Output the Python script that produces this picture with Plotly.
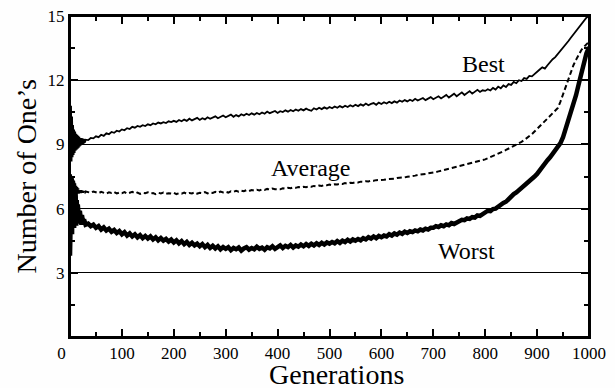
import plotly.graph_objects as go

# ---------------- data ----------------
generations = list(range(0, 31)) + list(range(35, 1001, 5))

best = [
    # 0-30
    11.4, 8.3, 10.8, 8.2, 10.3, 8.4, 9.9, 8.5, 9.7, 8.6, 9.6, 8.7, 9.5, 8.75, 9.45, 8.8,
    9.4, 8.85, 9.35, 8.9, 9.3, 8.95, 9.3, 9.0, 9.28, 9.02, 9.26, 9.05, 9.25, 9.08, 9.22,
    # 35-45
    9.20, 9.30, 9.28,
    9.38, 9.34, 9.45, 9.40, 9.52, 9.48, 9.58, 9.54, 9.64, 9.60,
    9.70, 9.66, 9.76, 9.72, 9.82, 9.78, 9.86, 9.82, 9.90, 9.86,
    9.94, 9.90, 9.98, 9.94, 10.02, 9.98, 10.04, 10.00, 10.08, 10.04,
    10.10, 10.05, 10.14, 10.08, 10.16, 10.10, 10.20, 10.12, 10.18, 10.24,
    10.14, 10.22, 10.17, 10.27, 10.20, 10.25, 10.31, 10.22, 10.29, 10.35,
    10.27, 10.33, 10.39, 10.29, 10.37, 10.31, 10.41, 10.35, 10.43, 10.37,
    10.45, 10.39, 10.47, 10.41, 10.49, 10.43, 10.53, 10.46, 10.51, 10.56,
    10.47, 10.55, 10.51, 10.59, 10.53, 10.61, 10.55, 10.63, 10.57, 10.65,
    10.59, 10.67, 10.61, 10.57, 10.69, 10.63, 10.71, 10.65, 10.73, 10.67,
    10.75, 10.69, 10.77, 10.71, 10.79, 10.73, 10.81, 10.75, 10.83, 10.77,
    10.85, 10.79, 10.87, 10.81, 10.91, 10.83, 10.89, 10.93, 10.85, 10.95,
    10.89, 10.97, 10.91, 10.99, 10.93, 11.01, 10.95, 11.05, 10.99, 11.07,
    11.01, 11.09, 11.03, 11.13, 11.05, 11.11, 11.17, 11.07, 11.15, 11.21,
    11.11, 11.19, 11.25, 11.15, 11.23, 11.31, 11.19, 11.29, 11.37, 11.25,
    11.35, 11.43, 11.31, 11.41, 11.49, 11.37, 11.47, 11.55, 11.45, 11.53,
    11.50, 11.58, 11.52, 11.64, 11.56, 11.70, 11.62, 11.76, 11.68, 11.82,
    11.78, 11.92, 11.86, 12.00, 11.96, 12.10, 12.06, 12.20, 12.18, 12.30,
    12.40, 12.50, 12.60, 12.54, 12.70, 12.86, 12.98, 13.08, 13.22, 13.36,
    13.50, 13.66, 13.82, 13.98, 14.14, 14.30, 14.46, 14.62, 14.78, 14.92,
    15.00,
]

average = [
    # 0-30
    7.0, 6.3, 7.6, 6.3, 7.5, 6.4, 7.4, 6.5, 7.3, 6.55, 7.2, 6.6, 7.1, 6.65, 7.0, 6.7,
    6.95, 6.7, 6.9, 6.72, 6.88, 6.72, 6.86, 6.74, 6.84, 6.74, 6.82, 6.75, 6.8, 6.76, 6.8,
    # 35-45
    6.78, 6.74, 6.80,
    6.76, 6.72, 6.78, 6.74, 6.70, 6.76, 6.73, 6.78, 6.71, 6.75,
    6.72, 6.77, 6.70, 6.74, 6.78, 6.71, 6.75, 6.69, 6.74, 6.72,
    6.76, 6.70, 6.73, 6.68, 6.74, 6.71, 6.75, 6.69, 6.72, 6.70,
    6.74, 6.68, 6.72, 6.70, 6.75, 6.69, 6.73, 6.71, 6.76, 6.70,
    6.74, 6.72, 6.77, 6.71, 6.75, 6.73, 6.78, 6.74, 6.80, 6.76,
    6.79, 6.75, 6.81, 6.78, 6.83, 6.79, 6.84, 6.81, 6.86, 6.82,
    6.87, 6.84, 6.88, 6.85, 6.90, 6.87, 6.92, 6.89, 6.94, 6.91,
    6.92, 6.90, 6.95, 6.93, 6.97, 6.95, 6.99, 6.97, 7.01, 6.99,
    7.02, 7.00, 7.04, 7.02, 7.06, 7.04, 7.08, 7.06, 7.10, 7.09,
    7.12, 7.10, 7.14, 7.13, 7.16, 7.15, 7.19, 7.17, 7.21, 7.20,
    7.23, 7.22, 7.26, 7.25, 7.28, 7.27, 7.31, 7.30, 7.33, 7.33,
    7.34, 7.35, 7.37, 7.37, 7.40, 7.40, 7.43, 7.43, 7.46, 7.46,
    7.49, 7.50, 7.53, 7.54, 7.57, 7.58, 7.61, 7.62, 7.65, 7.66,
    7.68, 7.71, 7.74, 7.77, 7.80, 7.83, 7.86, 7.89, 7.92, 7.95,
    7.98, 8.01, 8.04, 8.07, 8.10, 8.13, 8.16, 8.19, 8.22, 8.26,
    8.30, 8.35, 8.40, 8.45, 8.50, 8.56, 8.62, 8.68, 8.74, 8.80,
    8.86, 8.92, 8.98, 9.05, 9.12, 9.20, 9.28, 9.38, 9.48, 9.60,
    9.72, 9.84, 9.96, 10.08, 10.20, 10.32, 10.44, 10.56, 10.70, 11.00,
    11.35, 11.70, 12.05, 12.40, 12.70, 12.95, 13.20, 13.40, 13.55, 13.68,
    13.80,
]

worst = [
    # 0-30
    3.8, 6.5, 4.6, 7.5, 4.8, 7.3, 5.0, 7.0, 5.1, 6.8, 5.2, 6.6, 5.2, 6.4, 5.3, 6.2,
    5.3, 6.0, 5.3, 5.9, 5.3, 5.8, 5.25, 5.7, 5.25, 5.6, 5.25, 5.5, 5.25, 5.45, 5.25,
    # 35-45
    5.30, 5.18, 5.25,
    5.10, 5.18, 5.02, 5.12, 4.98, 5.06, 4.92, 5.00, 4.86, 4.95,
    4.80, 4.90, 4.74, 4.84, 4.70, 4.80, 4.66, 4.76, 4.62, 4.72,
    4.60, 4.70, 4.56, 4.66, 4.52, 4.62, 4.50, 4.58, 4.46, 4.55,
    4.42, 4.52, 4.38, 4.48, 4.34, 4.44, 4.30, 4.40, 4.28, 4.36,
    4.24, 4.34, 4.20, 4.30, 4.16, 4.26, 4.14, 4.24, 4.10, 4.20,
    4.12, 4.20, 4.06, 4.16, 4.10, 4.18, 4.04, 4.14, 4.20, 4.08,
    4.16, 4.10, 4.22, 4.12, 4.18, 4.08, 4.20, 4.14, 4.24, 4.12,
    4.20, 4.28, 4.16, 4.26, 4.20, 4.30, 4.18, 4.28, 4.22, 4.32,
    4.24, 4.34, 4.26, 4.36, 4.28, 4.38, 4.30, 4.40, 4.32, 4.42,
    4.36, 4.44, 4.38, 4.48, 4.40, 4.50, 4.44, 4.54, 4.46, 4.56,
    4.50, 4.58, 4.52, 4.62, 4.56, 4.66, 4.60, 4.70, 4.62, 4.72,
    4.66, 4.74, 4.70, 4.80, 4.74, 4.84, 4.78, 4.88, 4.82, 4.92,
    4.86, 4.94, 4.90, 4.98, 4.94, 5.02, 4.98, 5.06, 5.02, 5.10,
    5.10, 5.18, 5.14, 5.22, 5.18, 5.26, 5.22, 5.32, 5.28, 5.36,
    5.40, 5.48, 5.46, 5.54, 5.52, 5.60, 5.58, 5.68, 5.66, 5.76,
    5.80, 5.90, 5.88, 5.98, 6.00, 6.10, 6.14, 6.26, 6.32, 6.46,
    6.58, 6.68, 6.76, 6.86, 6.94, 7.04, 7.14, 7.24, 7.34, 7.50,
    7.62, 7.80, 7.94, 8.10, 8.26, 8.40, 8.56, 8.72, 8.86, 9.06,
    9.34, 9.70, 10.10, 10.50, 10.90, 11.30, 11.80, 12.30, 12.80, 13.25,
    13.55,
]

x_range = [0, 1000]
y_range = [0, 15]
x_tick_step = 100
y_tick_step = 3

series_labels = ["Best", "Average", "Worst"]
label_gen = [796, 465, 763]
label_val = [12.78, 7.92, 4.0]

x_title = "Generations"
y_title = "Number of One\u2019s"

# ---------------- figure ----------------
FONT = "Liberation Serif, DejaVu Serif, serif"

fig = go.Figure()
fig.add_trace(go.Scatter(x=generations, y=worst, mode="lines", name="Worst",
                         line=dict(color="black", width=4.5)))
fig.add_trace(go.Scatter(x=generations, y=average, mode="lines", name="Average",
                         line=dict(color="black", width=2, dash="5px,3px")))
fig.add_trace(go.Scatter(x=generations, y=best, mode="lines", name="Best",
                         line=dict(color="black", width=1.8)))

for t, gx, gy in zip(series_labels, label_gen, label_val):
    fig.add_annotation(x=gx, y=gy, xref="x", yref="y", text=t, showarrow=False,
                       xanchor="center", yanchor="middle",
                       font=dict(family=FONT, size=24, color="black"))

fig.add_annotation(x=0.514, y=-0.118, xref="paper", yref="paper", text=x_title,
                   showarrow=False, xanchor="center", yanchor="middle",
                   font=dict(family=FONT, size=28, color="black"))
fig.add_annotation(x=-0.083, y=0.5, xref="paper", yref="paper", text=y_title,
                   showarrow=False, xanchor="center", yanchor="middle", textangle=-90,
                   font=dict(family=FONT, size=28, color="black"))

# plot frame
fig.add_shape(type="rect", xref="paper", yref="paper", x0=0, x1=1, y0=0, y1=1,
              line=dict(color="black", width=2), fillcolor="rgba(0,0,0,0)", layer="above")

tick_style = dict(ticks="inside", ticklen=8, tickwidth=1.5, tickcolor="black",
                  showline=True, linecolor="black", linewidth=2, zeroline=False,
                  automargin=False)

fig.update_layout(
    xaxis=dict(range=x_range, dtick=x_tick_step, showgrid=False, mirror="allticks",
               labelalias={"0": "0\u2007\u2007"},
               tickfont=dict(family=FONT, size=17, color="black"),
               minor=dict(dtick=x_tick_step / 2, ticklen=5, tickwidth=1.5,
                          tickcolor="black", ticks="inside"),
               **tick_style),
    yaxis=dict(range=y_range, dtick=y_tick_step, showgrid=True, gridcolor="black",
               gridwidth=1, mirror="allticks", labelalias={"0": " "},
               tickfont=dict(family=FONT, size=17, color="black"),
               minor=dict(dtick=y_tick_step / 2, ticklen=5, tickwidth=1.5,
                          tickcolor="black", ticks="inside"),
               **tick_style),
    # duplicate axes on the top and right for the closed, ticked frame
    xaxis2=dict(range=x_range, dtick=x_tick_step, overlaying="x", side="top", anchor="y",
                showticklabels=False, showgrid=False,
                minor=dict(dtick=x_tick_step / 2, ticklen=5, tickwidth=1.5,
                           tickcolor="black", ticks="inside"),
                **tick_style),
    yaxis2=dict(range=y_range, dtick=y_tick_step, overlaying="y", side="right", anchor="x",
                showticklabels=False, showgrid=False,
                minor=dict(dtick=y_tick_step / 2, ticklen=5, tickwidth=1.5,
                           tickcolor="black", ticks="inside"),
                **tick_style),
    width=615, height=388,
    margin=dict(l=70, r=26, t=16, b=51),
    plot_bgcolor="white", paper_bgcolor="#fefefe",
    showlegend=False,
    font=dict(family=FONT, color="black"),
)

# remove the default page margin so the figure fills the window exactly
fig.write_html("out.html", config={"displayModeBar": False},
               post_script="document.body.style.margin='0';document.body.style.overflow='hidden';")
